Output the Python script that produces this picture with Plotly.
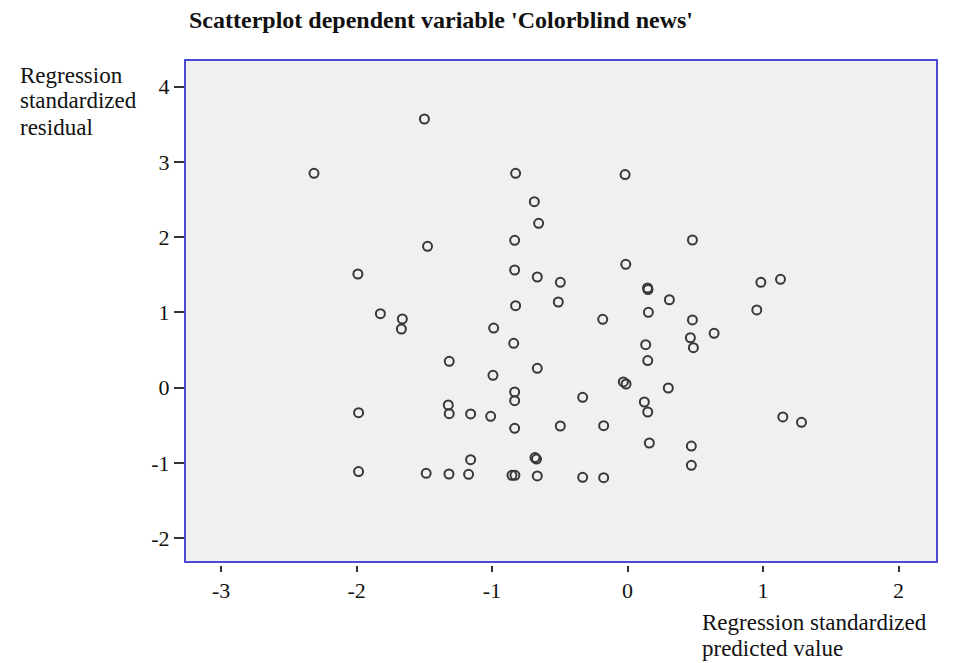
import plotly.graph_objects as go

# Regression standardized predicted values (x) and standardized residuals (y)
predicted = [
    -1.499, -2.314, -0.826, -0.018, -0.688, -0.656, -0.833, 0.479, -1.476, -0.013,
    -1.990, -0.833, -0.666, -0.496, 0.984, 1.129, 0.148, 0.151, 0.309, -0.511,
    -0.826, -1.824, -1.662, -1.669, 0.154, 0.479, -0.183, -0.988, 0.954, 0.639,
    0.464, 0.486, 0.134, -0.840, -1.316, 0.149, -0.666, -0.993, -0.031, -0.011,
    0.301, -0.833, -0.331, -0.833, -1.323, -1.316, -1.985, -1.158, -1.010, 0.124,
    0.149, 1.146, 1.284, -0.833, -0.496, -0.176, 0.161, 0.471, -0.683, -0.672,
    -1.158, 0.471, -1.985, -1.486, -1.318, -1.173, -0.853, -0.831, -0.666, -0.331,
    -0.176,
]
residual = [
    3.571, 2.849, 2.849, 2.833, 2.472, 2.185, 1.959, 1.963, 1.879, 1.640,
    1.511, 1.564, 1.471, 1.401, 1.401, 1.441, 1.325, 1.305, 1.169, 1.139,
    1.090, 0.983, 0.913, 0.780, 1.002, 0.900, 0.909, 0.793, 1.033, 0.723,
    0.664, 0.532, 0.571, 0.590, 0.351, 0.361, 0.258, 0.165, 0.076, 0.049,
    -0.004, -0.057, -0.128, -0.173, -0.230, -0.346, -0.332, -0.349, -0.380, -0.190,
    -0.323, -0.389, -0.460, -0.540, -0.509, -0.505, -0.735, -0.775, -0.928, -0.948,
    -0.957, -1.031, -1.114, -1.138, -1.147, -1.151, -1.164, -1.164, -1.173, -1.191,
    -1.196,
]

x_ticks = [-3, -2, -1, 0, 1, 2]
y_ticks = [-2, -1, 0, 1, 2, 3, 4]

title_text = "Scatterplot dependent variable 'Colorblind news'"
y_title_lines = ["Regression", "standardized", "residual"]
x_title_lines = ["Regression standardized", "predicted value"]

W, H = 953, 663
L, R, T, B = 185, 937, 60, 565   # paper area in pixels
SERIF = "Liberation Serif, Times New Roman, serif"


def px(xp):
    return (xp - L) / (R - L)


def py(yp):
    return (B - yp) / (B - T)


fig = go.Figure()
fig.add_trace(go.Scatter(
    x=predicted, y=residual, mode="markers",
    marker=dict(symbol="circle-open", size=9, color="#383838",
                line=dict(width=2, color="#383838")),
    hoverinfo="x+y", showlegend=False,
))

# frame around the plotting area
fig.add_shape(type="rect", xref="x domain", yref="y domain", x0=0, x1=1, y0=0, y1=1,
              line=dict(color="#4a4ad4", width=2), fillcolor="rgba(0,0,0,0)", layer="above")

annotations = [
    dict(text="<b>" + title_text + "</b>", x=px(187), y=py(20), xanchor="left",
         yanchor="middle", font=dict(family=SERIF, size=24, color="#111111"), showarrow=False),
]
for i, line in enumerate(y_title_lines):
    annotations.append(dict(text=line, x=px(18), y=py(75 + 26 * i), xanchor="left",
                            yanchor="middle", font=dict(family=SERIF, size=23, color="#111111"),
                            showarrow=False))
for i, line in enumerate(x_title_lines):
    annotations.append(dict(text=line, x=px(700), y=py(622 + 26 * i), xanchor="left",
                            yanchor="middle", font=dict(family=SERIF, size=23, color="#111111"),
                            showarrow=False))
for a in annotations:
    a.update(xref="paper", yref="paper")

fig.update_layout(
    width=W, height=H,
    margin=dict(l=L, r=W - R, t=T, b=H - B, pad=0),
    paper_bgcolor="white",
    plot_bgcolor="#f0f0f0",
    annotations=annotations,
    xaxis=dict(range=[-3.266, 2.284], tickvals=x_ticks, ticktext=[str(v) for v in x_ticks],
               anchor="free", position=0, showgrid=False, zeroline=False, showline=False,
               ticks="outside", ticklen=6, tickwidth=1.5, tickcolor="#333333",
               tickfont=dict(family=SERIF, size=22, color="#111111")),
    yaxis=dict(range=[-2.316, 4.355], domain=[0.006, 1], tickvals=y_ticks,
               ticktext=[str(v) for v in y_ticks],
               showgrid=False, zeroline=False, showline=False,
               ticks="outside", ticklen=10, tickwidth=1.5, tickcolor="#333333",
               tickfont=dict(family=SERIF, size=22, color="#111111")),
)

fig.write_html("out.html")
